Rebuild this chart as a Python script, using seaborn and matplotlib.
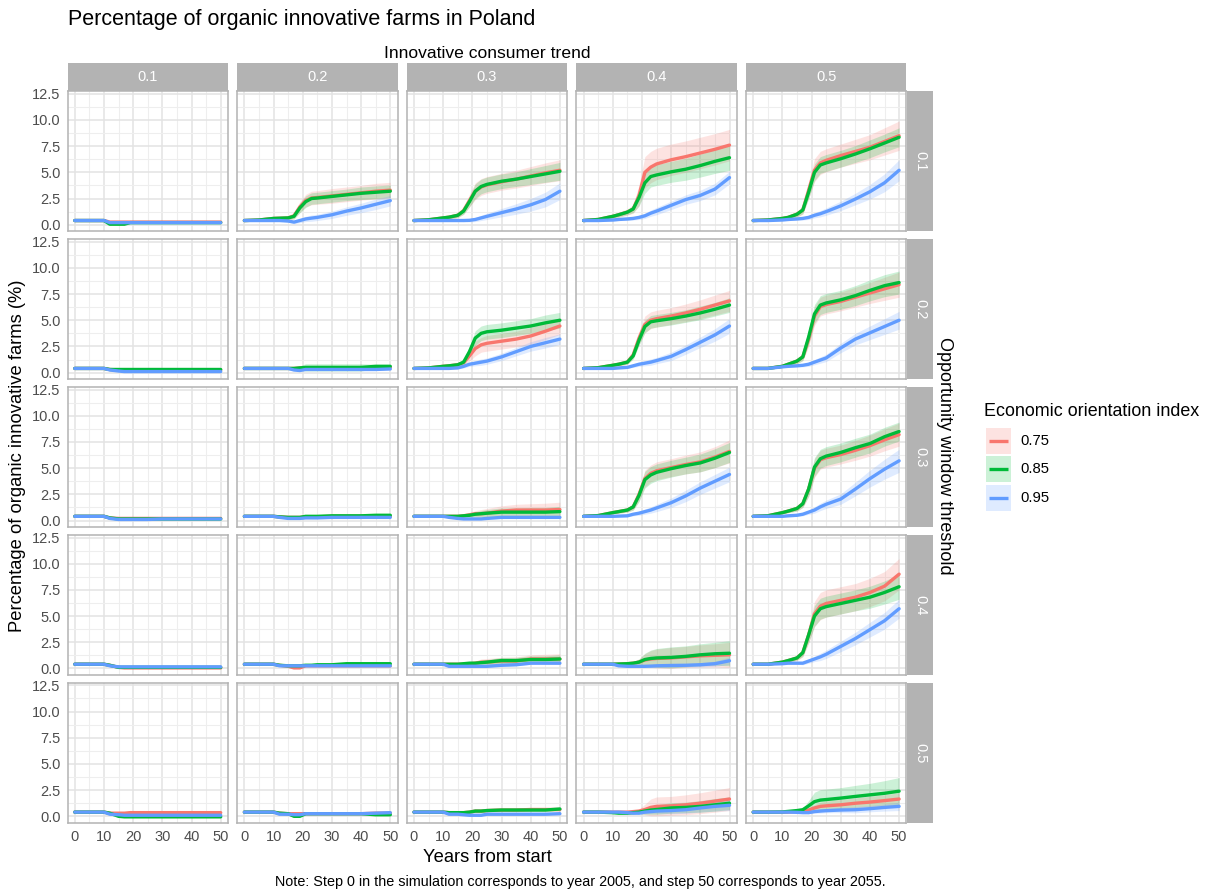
import matplotlib
matplotlib.use("Agg")
import matplotlib.pyplot as plt
import seaborn as sns
import pandas as pd
import numpy as np

# ---------------- data ----------------
YEARS = [0, 5, 10, 12, 15, 17, 19, 21, 23, 25, 30, 35, 40, 45, 50]
TRENDS = ["0.1", "0.2", "0.3", "0.4", "0.5"]          # columns
THRESHOLDS = ["0.1", "0.2", "0.3", "0.4", "0.5"]      # rows
EOI = ["0.75", "0.85", "0.95"]

# mean curves  [row][col] -> values at YEARS
MEAN_075 = [
    [[0.4,0.4,0.4,0.25,0.25,0.25,0.25,0.25,0.25,0.25,0.25,0.25,0.25,0.25,0.25],
     [0.4,0.45,0.6,0.62,0.65,0.85,1.7,2.3,2.55,2.6,2.75,2.9,3.05,3.2,3.3],
     [0.4,0.47,0.65,0.72,0.9,1.35,2.3,3.2,3.6,3.8,4.1,4.35,4.65,4.95,5.2],
     [0.4,0.5,0.8,0.95,1.2,1.5,2.8,5.0,5.5,5.8,6.2,6.5,6.85,7.2,7.6],
     [0.4,0.45,0.6,0.7,1.0,1.4,3.3,5.2,5.9,6.15,6.6,7.0,7.4,7.95,8.5]],
    [[0.4,0.4,0.4,0.3,0.25,0.25,0.25,0.25,0.25,0.25,0.25,0.25,0.25,0.25,0.25],
     [0.4,0.4,0.4,0.4,0.4,0.4,0.45,0.45,0.45,0.45,0.45,0.45,0.45,0.5,0.5],
     [0.4,0.45,0.6,0.65,0.75,0.95,1.6,2.3,2.65,2.8,3.0,3.2,3.5,3.95,4.45],
     [0.4,0.47,0.7,0.8,1.0,1.7,3.3,4.6,5.0,5.15,5.4,5.7,6.05,6.45,6.85],
     [0.4,0.4,0.6,0.8,1.1,1.5,3.2,5.4,6.3,6.5,6.8,7.2,7.6,8.0,8.4]],
    [[0.4,0.4,0.4,0.25,0.2,0.2,0.2,0.2,0.2,0.2,0.2,0.2,0.2,0.2,0.2],
     [0.4,0.4,0.4,0.35,0.3,0.3,0.3,0.35,0.35,0.35,0.4,0.4,0.4,0.4,0.4],
     [0.4,0.4,0.4,0.4,0.4,0.45,0.55,0.65,0.65,0.7,0.9,1.0,1.0,1.0,1.05],
     [0.4,0.47,0.75,0.85,1.0,1.3,2.5,4.0,4.5,4.75,5.05,5.35,5.6,6.05,6.6],
     [0.4,0.45,0.75,0.9,1.15,1.6,3.0,5.0,5.8,6.0,6.3,6.7,7.15,7.7,8.2]],
    [[0.4,0.4,0.4,0.3,0.1,0.05,0.05,0.05,0.05,0.05,0.05,0.05,0.05,0.05,0.05],
     [0.4,0.4,0.4,0.3,0.2,0.05,0.05,0.25,0.25,0.25,0.25,0.25,0.25,0.25,0.25],
     [0.4,0.4,0.4,0.4,0.4,0.4,0.45,0.5,0.6,0.6,0.7,0.7,0.9,0.9,0.9],
     [0.4,0.4,0.4,0.42,0.45,0.5,0.6,0.8,0.9,0.95,1.0,1.1,1.2,1.25,1.3],
     [0.4,0.4,0.6,0.75,1.0,1.5,3.2,5.2,5.95,6.2,6.5,6.8,7.25,7.85,9.0]],
    [[0.4,0.4,0.4,0.3,0.3,0.3,0.35,0.35,0.35,0.35,0.35,0.35,0.35,0.35,0.35],
     [0.4,0.4,0.4,0.3,0.25,0.25,0.25,0.25,0.25,0.25,0.25,0.25,0.25,0.3,0.3],
     [0.4,0.4,0.4,0.35,0.35,0.35,0.4,0.5,0.5,0.55,0.6,0.6,0.65,0.65,0.65],
     [0.4,0.4,0.4,0.4,0.4,0.45,0.5,0.65,0.85,0.95,1.0,1.1,1.25,1.45,1.65],
     [0.4,0.4,0.4,0.4,0.45,0.5,0.6,0.8,0.95,1.0,1.1,1.25,1.36,1.5,1.65]],
]
MEAN_085 = [
    [[0.4,0.4,0.4,0.05,0.05,0.05,0.2,0.2,0.2,0.2,0.2,0.2,0.2,0.2,0.2],
     [0.4,0.45,0.6,0.62,0.65,0.8,1.6,2.2,2.5,2.55,2.7,2.85,3.0,3.1,3.2],
     [0.4,0.47,0.65,0.72,0.9,1.3,2.2,3.2,3.65,3.85,4.15,4.35,4.6,4.85,5.1],
     [0.4,0.5,0.8,0.95,1.2,1.5,2.6,4.0,4.6,4.75,5.05,5.3,5.65,6.05,6.4],
     [0.4,0.45,0.6,0.7,1.0,1.4,3.1,5.0,5.7,5.9,6.3,6.75,7.25,7.8,8.35]],
    [[0.4,0.4,0.4,0.3,0.3,0.3,0.3,0.3,0.3,0.3,0.3,0.3,0.3,0.3,0.3],
     [0.4,0.4,0.4,0.4,0.4,0.4,0.45,0.5,0.5,0.5,0.5,0.5,0.5,0.6,0.6],
     [0.4,0.45,0.6,0.65,0.75,1.0,2.0,3.3,3.75,3.9,4.05,4.25,4.45,4.75,5.0],
     [0.4,0.47,0.7,0.8,1.0,1.6,3.1,4.4,4.85,4.95,5.15,5.4,5.7,6.05,6.45],
     [0.4,0.4,0.6,0.8,1.1,1.5,3.4,5.6,6.45,6.65,6.95,7.35,7.85,8.3,8.6]],
    [[0.4,0.4,0.4,0.25,0.15,0.15,0.15,0.15,0.15,0.15,0.15,0.15,0.15,0.15,0.15],
     [0.4,0.4,0.4,0.35,0.3,0.3,0.3,0.4,0.4,0.4,0.45,0.45,0.45,0.5,0.5],
     [0.4,0.4,0.4,0.4,0.4,0.45,0.5,0.6,0.65,0.7,0.8,0.8,0.8,0.8,0.85],
     [0.4,0.47,0.75,0.85,1.0,1.3,2.4,3.9,4.35,4.6,4.95,5.25,5.5,5.95,6.5],
     [0.4,0.45,0.75,0.9,1.15,1.6,3.0,5.1,5.9,6.15,6.5,6.95,7.35,8.0,8.5]],
    [[0.4,0.4,0.4,0.3,0.1,0.1,0.1,0.1,0.1,0.1,0.1,0.1,0.1,0.1,0.1],
     [0.4,0.4,0.4,0.3,0.25,0.25,0.25,0.3,0.3,0.35,0.35,0.45,0.45,0.45,0.45],
     [0.4,0.4,0.4,0.4,0.4,0.45,0.5,0.5,0.55,0.6,0.75,0.75,0.85,0.85,0.9],
     [0.4,0.4,0.4,0.42,0.45,0.5,0.6,0.85,0.95,1.0,1.05,1.15,1.3,1.4,1.45],
     [0.4,0.4,0.6,0.75,1.0,1.5,3.2,5.0,5.7,5.9,6.2,6.5,6.8,7.25,7.8]],
    [[0.4,0.4,0.4,0.3,0.0,-0.05,-0.05,-0.05,-0.05,-0.05,-0.05,-0.05,-0.05,-0.05,-0.05],
     [0.4,0.4,0.4,0.3,0.25,0.0,0.0,0.25,0.25,0.25,0.25,0.25,0.25,0.15,0.15],
     [0.4,0.4,0.4,0.35,0.35,0.35,0.4,0.5,0.5,0.55,0.6,0.6,0.6,0.6,0.7],
     [0.4,0.4,0.35,0.3,0.3,0.35,0.4,0.5,0.6,0.65,0.8,0.85,0.95,1.1,1.25],
     [0.4,0.4,0.42,0.47,0.55,0.63,1.0,1.4,1.55,1.6,1.74,1.9,2.05,2.2,2.4]],
]
MEAN_095 = [
    [[0.4,0.4,0.4,0.2,0.2,0.2,0.2,0.2,0.2,0.2,0.2,0.2,0.2,0.2,0.2],
     [0.4,0.4,0.4,0.4,0.35,0.25,0.4,0.55,0.63,0.7,0.95,1.3,1.6,1.95,2.3],
     [0.4,0.4,0.4,0.4,0.4,0.4,0.42,0.5,0.65,0.8,1.15,1.5,1.9,2.4,3.2],
     [0.4,0.4,0.45,0.5,0.55,0.6,0.7,0.85,1.1,1.3,1.85,2.4,2.8,3.4,4.5],
     [0.4,0.4,0.45,0.5,0.55,0.6,0.7,0.9,1.05,1.25,1.8,2.45,3.15,4.0,5.2]],
    [[0.4,0.4,0.4,0.25,0.15,0.1,0.1,0.1,0.1,0.1,0.1,0.1,0.1,0.1,0.1],
     [0.4,0.4,0.4,0.4,0.4,0.25,0.2,0.3,0.3,0.3,0.3,0.3,0.3,0.3,0.35],
     [0.4,0.4,0.4,0.4,0.45,0.6,0.8,0.9,1.0,1.1,1.5,2.0,2.5,2.85,3.2],
     [0.4,0.4,0.4,0.45,0.5,0.65,0.8,0.9,1.0,1.15,1.55,2.2,2.9,3.6,4.45],
     [0.4,0.4,0.55,0.6,0.65,0.7,0.8,1.0,1.2,1.4,2.35,3.2,3.8,4.4,5.0]],
    [[0.4,0.4,0.4,0.2,0.1,0.1,0.1,0.1,0.1,0.1,0.15,0.15,0.15,0.15,0.15],
     [0.4,0.4,0.4,0.3,0.2,0.2,0.2,0.25,0.25,0.25,0.3,0.3,0.3,0.3,0.3],
     [0.4,0.4,0.4,0.3,0.2,0.15,0.15,0.15,0.15,0.2,0.3,0.3,0.3,0.3,0.3],
     [0.4,0.4,0.4,0.42,0.45,0.6,0.7,0.85,1.0,1.2,1.7,2.35,3.1,3.75,4.4],
     [0.4,0.4,0.4,0.45,0.5,0.6,0.8,1.0,1.3,1.55,2.05,3.0,4.0,4.9,5.7]],
    [[0.4,0.4,0.4,0.25,0.15,0.15,0.15,0.15,0.15,0.15,0.15,0.15,0.15,0.15,0.15],
     [0.4,0.4,0.4,0.25,0.25,0.25,0.25,0.25,0.25,0.25,0.25,0.25,0.25,0.25,0.25],
     [0.4,0.4,0.4,0.2,0.2,0.2,0.2,0.2,0.2,0.2,0.3,0.35,0.5,0.5,0.5],
     [0.4,0.4,0.4,0.25,0.2,0.2,0.2,0.2,0.22,0.25,0.28,0.3,0.35,0.45,0.73],
     [0.4,0.4,0.45,0.5,0.5,0.5,0.7,0.9,1.1,1.35,2.1,2.85,3.7,4.55,5.7]],
    [[0.4,0.4,0.4,0.2,0.15,0.1,0.1,0.1,0.1,0.1,0.1,0.1,0.1,0.1,0.1],
     [0.4,0.4,0.4,0.2,0.2,0.15,0.15,0.25,0.25,0.25,0.25,0.25,0.25,0.3,0.35],
     [0.4,0.4,0.4,0.2,0.2,0.15,0.1,0.1,0.1,0.2,0.2,0.2,0.2,0.2,0.25],
     [0.4,0.4,0.4,0.4,0.35,0.3,0.3,0.4,0.45,0.5,0.55,0.63,0.8,0.95,1.05],
     [0.4,0.4,0.4,0.4,0.38,0.35,0.35,0.45,0.5,0.54,0.6,0.63,0.73,0.85,0.95]],
]

# ribbon half-widths [row][col] -> values at YEARS
SPREAD_075 = [
    [[0,0,0,0.05,0.05,0.05,0.05,0.05,0.05,0.05,0.05,0.05,0.05,0.05,0.05],
     [0,0.05,0.15,0.15,0.2,0.3,0.5,0.6,0.65,0.65,0.7,0.7,0.7,0.75,0.75],
     [0,0.05,0.15,0.2,0.25,0.35,0.6,0.8,0.8,0.8,0.8,0.85,0.9,0.95,1.0],
     [0,0.1,0.2,0.25,0.3,0.4,1.0,1.5,1.5,1.5,1.5,1.5,1.5,1.5,1.5],
     [0,0.05,0.15,0.2,0.3,0.4,0.8,1.1,1.1,1.1,1.1,1.15,1.2,1.3,1.4]],
    [[0,0,0,0.05,0.05,0.05,0.05,0.05,0.05,0.05,0.05,0.05,0.05,0.05,0.05],
     [0,0,0,0,0.05,0.05,0.1,0.1,0.1,0.1,0.1,0.1,0.1,0.1,0.1],
     [0,0.05,0.1,0.15,0.2,0.3,0.5,0.7,0.7,0.75,0.75,0.75,0.8,0.8,0.8],
     [0,0.05,0.1,0.15,0.2,0.35,0.6,0.8,0.8,0.8,0.8,0.85,0.9,0.95,1.0],
     [0,0.05,0.1,0.15,0.25,0.35,0.7,0.9,0.9,0.9,0.9,0.95,1.0,1.1,1.2]],
    [[0,0,0,0.05,0.05,0.05,0.05,0.05,0.05,0.05,0.05,0.05,0.05,0.05,0.05],
     [0,0,0,0.05,0.05,0.05,0.05,0.05,0.05,0.05,0.05,0.05,0.05,0.05,0.05],
     [0,0,0,0.05,0.1,0.15,0.2,0.3,0.4,0.45,0.5,0.55,0.6,0.65,0.7],
     [0,0.05,0.1,0.15,0.2,0.3,0.6,0.8,0.8,0.85,0.85,0.9,0.95,1.0,1.1],
     [0,0.05,0.1,0.15,0.25,0.35,0.7,0.9,0.9,0.9,0.9,0.95,1.0,1.05,1.1]],
    [[0,0,0,0.05,0.05,0.05,0.05,0.05,0.05,0.05,0.05,0.05,0.05,0.05,0.05],
     [0,0,0,0.05,0.05,0.05,0.05,0.05,0.05,0.05,0.05,0.05,0.05,0.05,0.05],
     [0,0,0,0,0.05,0.05,0.1,0.2,0.3,0.35,0.35,0.4,0.4,0.45,0.5],
     [0,0,0,0.05,0.1,0.15,0.3,0.6,0.8,0.9,1.0,1.0,1.05,1.1,1.2],
     [0,0.05,0.1,0.15,0.25,0.4,0.8,1.2,1.3,1.3,1.3,1.3,1.35,1.4,1.5]],
    [[0,0,0,0.05,0.05,0.05,0.05,0.05,0.05,0.05,0.05,0.05,0.05,0.05,0.05],
     [0,0,0,0.05,0.05,0.05,0.05,0.05,0.05,0.05,0.05,0.05,0.05,0.05,0.05],
     [0,0,0,0.05,0.05,0.05,0.1,0.15,0.15,0.15,0.15,0.15,0.15,0.15,0.15],
     [0,0,0,0,0.05,0.1,0.2,0.5,0.8,0.9,0.9,0.95,1.0,1.05,1.1],
     [0,0,0,0,0.05,0.1,0.2,0.3,0.4,0.45,0.5,0.5,0.55,0.55,0.6]],
]
SPREAD_085 = [
    [[0,0,0,0.05,0.05,0.05,0.05,0.05,0.05,0.05,0.05,0.05,0.05,0.05,0.05],
     [0,0.05,0.1,0.1,0.15,0.25,0.45,0.55,0.55,0.55,0.55,0.55,0.6,0.6,0.6],
     [0,0.05,0.1,0.15,0.2,0.3,0.5,0.7,0.7,0.7,0.7,0.7,0.75,0.8,0.85],
     [0,0.1,0.15,0.2,0.25,0.35,0.8,1.0,1.0,1.0,1.0,1.05,1.1,1.15,1.2],
     [0,0.05,0.1,0.15,0.25,0.35,0.6,0.8,0.8,0.8,0.8,0.8,0.85,0.85,0.9]],
    [[0,0,0,0.05,0.05,0.05,0.05,0.05,0.05,0.05,0.05,0.05,0.05,0.05,0.05],
     [0,0,0,0,0.05,0.1,0.2,0.35,0.35,0.35,0.35,0.35,0.35,0.2,0.2],
     [0,0.05,0.1,0.15,0.2,0.3,0.5,0.7,0.7,0.7,0.7,0.7,0.7,0.75,0.75],
     [0,0.05,0.1,0.15,0.2,0.3,0.5,0.6,0.6,0.6,0.6,0.6,0.65,0.65,0.7],
     [0,0.05,0.1,0.15,0.25,0.35,0.7,0.9,0.9,0.9,0.9,0.95,1.0,1.05,1.1]],
    [[0,0,0,0.05,0.05,0.05,0.05,0.05,0.05,0.05,0.05,0.05,0.05,0.05,0.05],
     [0,0,0,0.05,0.05,0.05,0.05,0.1,0.1,0.1,0.1,0.1,0.1,0.1,0.1],
     [0,0,0,0.05,0.1,0.1,0.15,0.25,0.3,0.35,0.4,0.4,0.45,0.45,0.5],
     [0,0.05,0.1,0.15,0.2,0.3,0.6,0.8,0.8,0.8,0.8,0.8,0.85,0.9,0.95],
     [0,0.05,0.1,0.15,0.25,0.35,0.7,0.9,0.9,0.9,0.9,0.9,0.9,0.9,0.9]],
    [[0,0,0,0.05,0.05,0.05,0.05,0.05,0.05,0.05,0.05,0.05,0.05,0.05,0.05],
     [0,0,0,0.05,0.05,0.05,0.05,0.1,0.1,0.1,0.1,0.15,0.15,0.15,0.15],
     [0,0,0,0,0.05,0.05,0.1,0.15,0.2,0.25,0.3,0.3,0.35,0.35,0.4],
     [0,0,0,0.05,0.1,0.15,0.3,0.6,0.8,0.9,1.0,1.0,1.05,1.1,1.2],
     [0,0.05,0.1,0.15,0.2,0.35,0.7,1.0,1.0,1.0,1.0,1.0,1.05,1.1,1.2]],
    [[0,0,0,0.05,0.05,0.05,0.05,0.05,0.05,0.05,0.05,0.05,0.05,0.05,0.05],
     [0,0,0,0.05,0.05,0.05,0.05,0.05,0.05,0.05,0.05,0.05,0.05,0.05,0.05],
     [0,0,0,0.05,0.05,0.05,0.1,0.1,0.1,0.1,0.1,0.1,0.1,0.1,0.15],
     [0,0,0,0.05,0.05,0.1,0.15,0.3,0.4,0.45,0.5,0.5,0.55,0.6,0.6],
     [0,0,0.05,0.05,0.1,0.15,0.5,0.9,1.0,1.0,1.0,1.05,1.1,1.2,1.3]],
]
SPREAD_095 = [
    [[0,0,0,0.05,0.05,0.05,0.05,0.05,0.05,0.05,0.05,0.05,0.05,0.05,0.05],
     [0,0,0,0.05,0.1,0.15,0.2,0.25,0.3,0.3,0.35,0.4,0.45,0.5,0.5],
     [0,0,0,0.05,0.05,0.1,0.15,0.2,0.25,0.3,0.4,0.5,0.6,0.7,0.8],
     [0,0.05,0.1,0.1,0.15,0.15,0.2,0.25,0.3,0.35,0.4,0.45,0.5,0.55,0.6],
     [0,0.05,0.05,0.1,0.1,0.15,0.2,0.25,0.3,0.35,0.45,0.55,0.7,0.85,1.0]],
    [[0,0,0,0.05,0.05,0.05,0.05,0.05,0.05,0.05,0.05,0.05,0.05,0.05,0.05],
     [0,0,0,0.05,0.05,0.05,0.05,0.05,0.05,0.05,0.05,0.05,0.05,0.05,0.05],
     [0,0,0.05,0.05,0.1,0.15,0.2,0.25,0.3,0.3,0.35,0.4,0.45,0.5,0.5],
     [0,0.05,0.05,0.1,0.1,0.15,0.2,0.25,0.3,0.3,0.4,0.45,0.5,0.6,0.7],
     [0,0.05,0.05,0.1,0.1,0.15,0.2,0.25,0.3,0.35,0.45,0.55,0.65,0.75,0.85]],
    [[0,0,0,0.05,0.05,0.05,0.05,0.05,0.05,0.05,0.05,0.05,0.05,0.05,0.05],
     [0,0,0,0.05,0.05,0.05,0.05,0.05,0.05,0.05,0.05,0.05,0.05,0.05,0.05],
     [0,0,0,0.05,0.05,0.05,0.05,0.05,0.05,0.05,0.1,0.1,0.1,0.1,0.1],
     [0,0.05,0.05,0.05,0.1,0.15,0.2,0.25,0.3,0.35,0.45,0.55,0.6,0.65,0.7],
     [0,0.05,0.05,0.1,0.1,0.15,0.2,0.3,0.35,0.4,0.5,0.65,0.8,0.95,1.1]],
    [[0,0,0,0.05,0.05,0.05,0.05,0.05,0.05,0.05,0.05,0.05,0.05,0.05,0.05],
     [0,0,0,0.05,0.05,0.05,0.05,0.05,0.05,0.05,0.05,0.05,0.05,0.05,0.05],
     [0,0,0,0.05,0.05,0.05,0.05,0.05,0.05,0.05,0.1,0.1,0.1,0.1,0.1],
     [0,0,0,0.05,0.05,0.05,0.1,0.1,0.1,0.1,0.15,0.15,0.2,0.25,0.35],
     [0,0.05,0.05,0.1,0.1,0.15,0.2,0.25,0.35,0.4,0.5,0.6,0.7,0.8,0.9]],
    [[0,0,0,0.05,0.05,0.05,0.05,0.05,0.05,0.05,0.05,0.05,0.05,0.05,0.05],
     [0,0,0,0.05,0.05,0.05,0.05,0.05,0.05,0.05,0.05,0.05,0.05,0.05,0.05],
     [0,0,0,0.05,0.05,0.05,0.05,0.05,0.05,0.05,0.05,0.05,0.05,0.05,0.05],
     [0,0,0,0,0.05,0.05,0.1,0.15,0.2,0.25,0.3,0.35,0.4,0.45,0.5],
     [0,0,0,0,0.05,0.05,0.1,0.15,0.2,0.2,0.25,0.3,0.3,0.35,0.4]],
]

X_TICKS = [0, 10, 20, 30, 40, 50]
Y_TICKS = [0.0, 2.5, 5.0, 7.5, 10.0, 12.5]
Y_TICK_LABELS = ["0.0", "2.5", "5.0", "7.5", "10.0", "12.5"]

COLORS = {"0.75": "#F8766D", "0.85": "#00BA38", "0.95": "#619CFF"}

# ---------------- long table ----------------
rows = []
for ser, means, spreads in [("0.75", MEAN_075, SPREAD_075),
                            ("0.85", MEAN_085, SPREAD_085),
                            ("0.95", MEAN_095, SPREAD_095)]:
    for r, th in enumerate(THRESHOLDS):
        for c, tr in enumerate(TRENDS):
            for yr, m, s in zip(YEARS, means[r][c], spreads[r][c]):
                rows.append(dict(eoi=ser, threshold=th, trend=tr, year=yr,
                                 mean=m, lo=m - s, hi=m + s))
df = pd.DataFrame(rows)

# ---------------- figure ----------------
sns.set_theme(style="white")
plt.rcParams["font.family"] = ["Liberation Sans", "DejaVu Sans"]

W, H = 1207, 893
fig = plt.figure(figsize=(W / 100, H / 100), dpi=100)
fig.patch.set_facecolor("white")


def add_px_axes(left, top, width, height):
    return fig.add_axes([left / W, 1 - (top + height) / H, width / W, height / H])


P_LEFT0, P_DX, P_W = 67.5, 169.6, 160.5
P_TOP0, P_DY, P_H = 91.5, 147.9, 139.5
BORDER = "#B3B3B3"
GRID_MAJ = "#E3E3E3"
GRID_MIN = "#EEEEEE"
TICK_TXT = "#4D4D4D"
TICK_FS = 10.5

for r, th in enumerate(THRESHOLDS):
    for c, tr in enumerate(TRENDS):
        left = P_LEFT0 + c * P_DX
        top = P_TOP0 + r * P_DY
        ax = add_px_axes(left, top, P_W, P_H)
        ax.set_facecolor("white")
        ax.set_xlim(-2.5, 52.5)
        ax.set_ylim(-0.6, 12.72)
        ax.set_xticks(X_TICKS)
        ax.set_xticks([5, 15, 25, 35, 45], minor=True)
        ax.set_yticks(Y_TICKS)
        ax.set_yticks([1.25, 3.75, 6.25, 8.75, 11.25], minor=True)
        ax.grid(True, which="major", color=GRID_MAJ, lw=1.1, zorder=0)
        ax.grid(True, which="minor", color=GRID_MIN, lw=0.8, zorder=0)
        ax.set_axisbelow(True)
        for sp in ax.spines.values():
            sp.set_color(BORDER)
            sp.set_linewidth(1.1)
        ax.tick_params(which="minor", length=0)
        ax.tick_params(which="major", length=3, width=0.8, color=BORDER,
                       labelsize=TICK_FS, labelcolor=TICK_TXT, pad=2)
        if c == 0:
            ax.set_yticklabels(Y_TICK_LABELS)
        else:
            ax.tick_params(axis="y", which="major", length=0, labelleft=False)
        if r == len(THRESHOLDS) - 1:
            ax.set_xticklabels([str(t) for t in X_TICKS])
        else:
            ax.tick_params(axis="x", which="major", length=0, labelbottom=False)

        sub = df[(df.threshold == th) & (df.trend == tr)]
        for ser in EOI:
            s = sub[sub.eoi == ser]
            ax.fill_between(s.year, s.lo, s.hi, color=COLORS[ser], alpha=0.2,
                            lw=0, zorder=2)
        sns.lineplot(data=sub, x="year", y="mean", hue="eoi", hue_order=EOI,
                     palette=COLORS, errorbar=None, legend=False, lw=2.4,
                     ax=ax, zorder=3)
        ax.set_xlabel("")
        ax.set_ylabel("")

        # top strips
        if r == 0:
            sax = add_px_axes(left, 63, P_W, 28)
            sax.set_facecolor(BORDER)
            sax.set_xticks([]); sax.set_yticks([])
            for sp in sax.spines.values():
                sp.set_visible(False)
            sax.text(0.5, 0.5, tr, color="white", fontsize=TICK_FS,
                     ha="center", va="center", transform=sax.transAxes)
    # right strips
    top = P_TOP0 + r * P_DY
    rax = add_px_axes(907, top, 26, P_H)
    rax.set_facecolor(BORDER)
    rax.set_xticks([]); rax.set_yticks([])
    for sp in rax.spines.values():
        sp.set_visible(False)
    rax.text(0.5, 0.5, th, color="white", fontsize=TICK_FS, rotation=-90,
             ha="center", va="center", transform=rax.transAxes)

# texts
fig.text(68 / W, 1 - 20 / H, "Percentage of organic innovative farms in Poland",
         fontsize=15.5, ha="left", va="center", color="black")
fig.text(487 / W, 1 - 53 / H, "Innovative consumer trend",
         fontsize=12.6, ha="center", va="center", color="black")
fig.text(487 / W, 1 - 857 / H, "Years from start",
         fontsize=13.2, ha="center", va="center", color="black")
fig.text(18 / W, 1 - 456 / H, "Percentage of organic innovative farms (%)",
         fontsize=13.2, ha="center", va="center", rotation=90, color="black")
fig.text(944 / W, 1 - 456 / H, "Opportunity window threshold",
         fontsize=13, ha="center", va="center", rotation=-90, color="black")
fig.text(580 / W, 1 - 882 / H,
         "Note: Step 0 in the simulation corresponds to year 2005, and step 50 corresponds to year 2055.",
         fontsize=10.4, ha="center", va="center", color="black")

# legend
fig.text(984 / W, 1 - 412 / H, "Economic orientation index",
         fontsize=12.9, ha="left", va="center", color="black")
for i, ser in enumerate(EOI):
    ky = 428 + i * 28.3
    kax = add_px_axes(986, ky, 25, 26)
    kax.set_xlim(0, 1); kax.set_ylim(0, 1)
    kax.axis("off")
    kax.add_patch(plt.Rectangle((0, 0), 1, 1, color=COLORS[ser], alpha=0.2, lw=0))
    kax.plot([0.12, 0.88], [0.5, 0.5], color=COLORS[ser], lw=2.4,
             solid_capstyle="butt")
    fig.text(1020 / W, 1 - (ky + 13) / H, ser, fontsize=10.7, ha="left",
             va="center", color="black")

fig.savefig("out.png", dpi=100, facecolor="white")
